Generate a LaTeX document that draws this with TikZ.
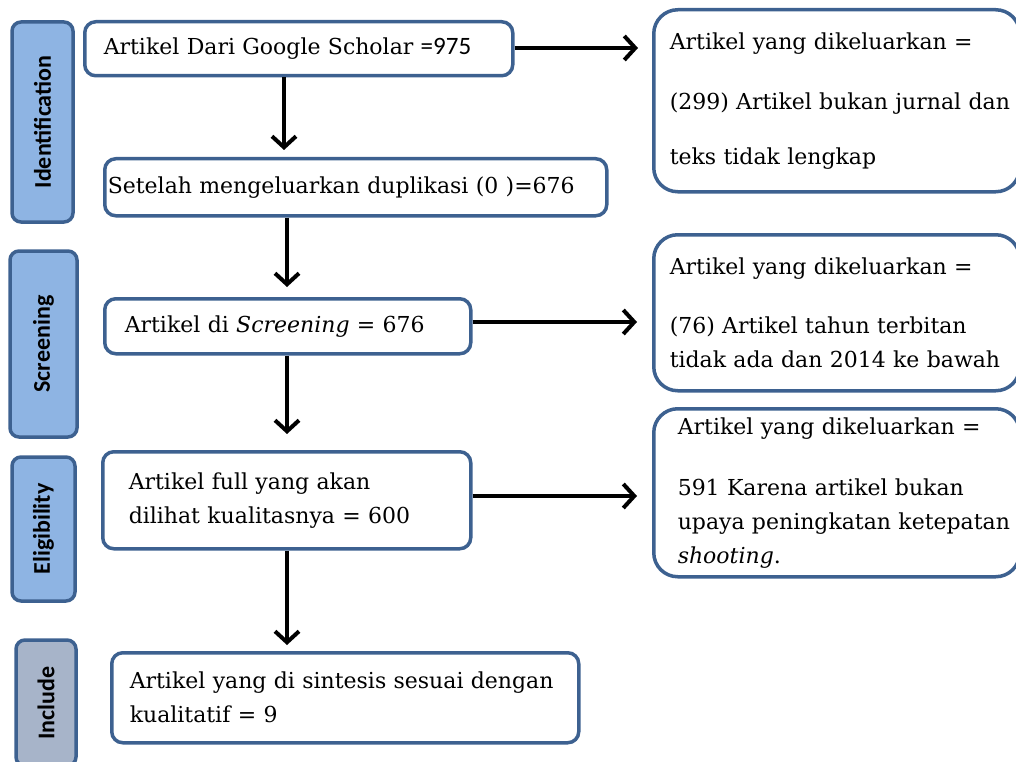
\documentclass[tikz,border=0pt]{standalone}
\usepackage{fontspec}
\setmainfont{DejaVu Serif}
\newfontfamily\calib{Carlito}
\usetikzlibrary{arrows.meta}
\definecolor{bord}{HTML}{3D6190}
\definecolor{stagefill}{HTML}{8EB4E3}
\definecolor{incfill}{HTML}{A7B4C9}
\tikzset{
  stagebox/.style={draw=bord, line width=3.5pt, fill=stagefill, rounded corners=9pt, rotate=90, inner sep=0pt,
     font=\calib\bfseries\fontsize{24}{26}\selectfont},
  mainbox/.style={draw=bord, line width=3.5pt, fill=white, rounded corners=11pt, anchor=north west, inner ysep=0pt,
     align=left, font=\fontsize{22}{34}\selectfont},
  sidebox/.style={draw=bord, line width=3.5pt, fill=white, rounded corners=24pt, anchor=north west, inner ysep=0pt,
     align=left, font=\fontsize{22}{34}\selectfont},
  flow/.style={line width=4pt, -{Straight Barb[length=11pt,width=24pt,line width=4pt]}}
}
\begin{document}
\begin{tikzpicture}[x=1pt,y=-1pt]
\useasboundingbox (0,0) rectangle (1016,762);
% stage labels
\node[stagebox, minimum width=200, minimum height=61] (s1) at (42.5,122) {Identification};
\node[stagebox, minimum width=186, minimum height=67] (s2) at (43.5,344) {Screening};
\node[stagebox, minimum width=144, minimum height=63] (s3) at (43.5,529) {Eligibility};
\node[stagebox, fill=incfill, minimum width=126, minimum height=60] (s4) at (46,703) {Include};
% main boxes
\node[mainbox, inner xsep=19, text width=390, minimum height=54] (b1) at (83,20)
  {\mbox{Artikel Dari Google Scholar {\calib\fontsize{25}{34}\selectfont =975}}};
\node[mainbox, inner xsep=3, text width=496, minimum height=57] (b2) at (103,157)
  {\mbox{Setelah mengeluarkan duplikasi (0 )=676}};
\node[mainbox, inner xsep=20, text width=326, minimum height=55] (b3) at (103,297)
  {\mbox{Artikel di \textit{Screening} = 676}};
\node[mainbox, inner xsep=26, text width=316, minimum height=97] (b4) at (101,450)
  {\mbox{Artikel full yang akan}\\\mbox{dilihat kualitasnya = 600}};
\node[mainbox, inner xsep=18, text width=431, minimum height=90] (b5) at (110,651)
  {\mbox{Artikel yang di sintesis sesuai dengan}\\\mbox{kualitatif = 9}};
% side boxes
\node[sidebox, inner xsep=16, text width=334, minimum height=182] (r1) at (652,8)
  {\mbox{Artikel yang dikeluarkan =}\\[26pt]\mbox{(299) Artikel bukan jurnal dan}\\[21pt]\mbox{teks tidak lengkap}};
\node[sidebox, inner xsep=16, text width=334, minimum height=156] (r2) at (652,233)
  {\mbox{Artikel yang dikeluarkan =}\\[25pt]\mbox{(76) Artikel tahun terbitan}\\\mbox{tidak ada dan 2014 ke bawah}};
\node[sidebox, inner xsep=24, text width=318, minimum height=168] (r3) at (652,407)
  {\mbox{Artikel yang dikeluarkan =}\\[27pt]\mbox{591 Karena artikel bukan}\\\mbox{upaya peningkatan ketepatan}\\\mbox{\textit{shooting}.}};
% vertical connectors
\draw[flow] (b1.south -| 284,0) -- (284,150);
\draw[flow] (b2.south -| 287,0) -- (287,287);
\draw[flow] (b3.south -| 287,0) -- (287,434);
\draw[flow] (b4.south -| 287,0) -- (287,645);
% horizontal connectors
\coordinate (e1) at (638,48);
\coordinate (e2) at (637,322);
\coordinate (e3) at (637,496);
\draw[flow] (b1.east |- e1) -- (e1);
\draw[flow] (b3.east |- e2) -- (e2);
\draw[flow] (b4.east |- e3) -- (e3);
\end{tikzpicture}
\end{document}
